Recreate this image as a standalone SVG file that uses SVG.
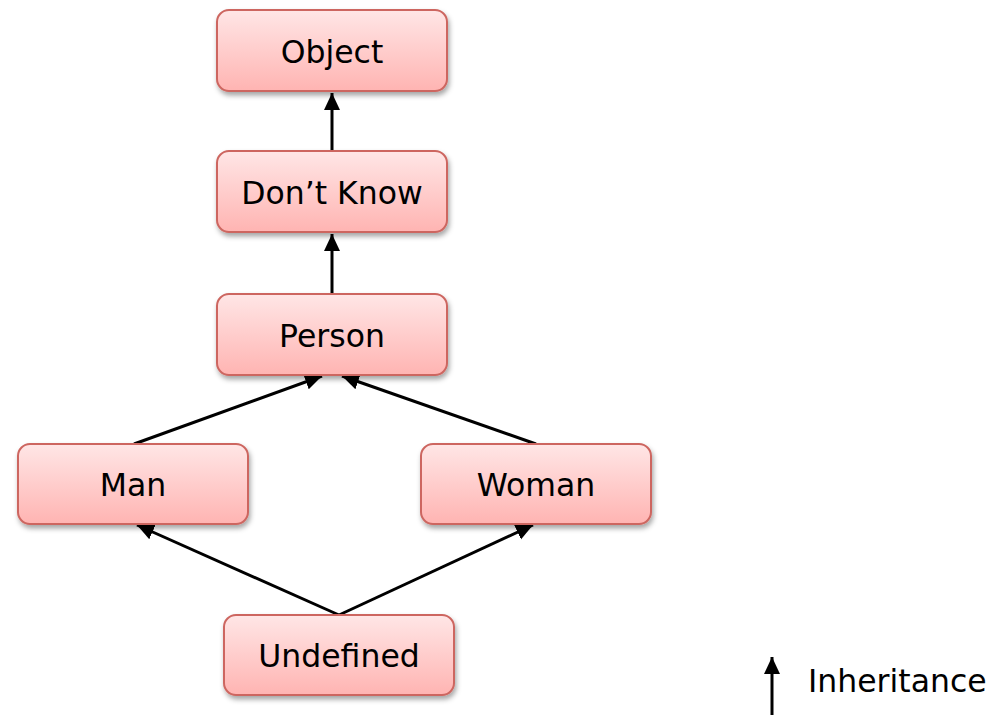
<svg xmlns="http://www.w3.org/2000/svg" width="994" height="715" viewBox="0 0 994 715">
<style>
.box{fill:url(#g);stroke:#cd6660;stroke-width:2;filter:url(#sh)}
.lbl{font-family:"DejaVu Sans","Verdana",sans-serif;font-size:31.5px;fill:#000;text-anchor:middle}
.leg{font-family:"DejaVu Sans","Verdana",sans-serif;font-size:31.5px;fill:#000}
.edge{stroke:#000;stroke-width:3;fill:none;marker-end:url(#ah)}
</style>
<defs>
<linearGradient id="g" x1="0" y1="0" x2="0" y2="1">
<stop offset="0" stop-color="#ffe6e6"/>
<stop offset="1" stop-color="#ffb4b2"/>
</linearGradient>
<filter id="sh" x="-10%" y="-10%" width="125%" height="135%">
<feDropShadow dx="1.5" dy="3.5" stdDeviation="2.5" flood-color="#000" flood-opacity="0.35"/>
</filter>
<marker id="ah" markerUnits="userSpaceOnUse" markerWidth="18" markerHeight="18" viewBox="0 0 18 16" refX="17" refY="8" orient="auto">
<path d="M0,0 L17,8 L0,16 Z" fill="#000"/>
</marker>
</defs>
<g id="connectors">
<line class="edge" x1="332" y1="151" x2="332" y2="93"/>
<line class="edge" x1="332" y1="294" x2="332" y2="234"/>
<line class="edge" x1="134" y1="444" x2="322" y2="376"/>
<line class="edge" x1="536" y1="444" x2="342" y2="376"/>
<line class="edge" x1="339" y1="615" x2="137" y2="525"/>
<line class="edge" x1="339" y1="615" x2="533" y2="525"/>
</g>
<g id="object"><rect class="box" x="217" y="10" width="230" height="81" rx="12"/><text class="lbl" x="332" y="63">Object</text></g>
<g id="dontknow"><rect class="box" x="217" y="151" width="230" height="81" rx="12"/><text class="lbl" x="332" y="204">Don’t Know</text></g>
<g id="person"><rect class="box" x="217" y="294" width="230" height="81" rx="12"/><text class="lbl" x="332" y="347">Person</text></g>
<g id="man"><rect class="box" x="18" y="444" width="230" height="80" rx="12"/><text class="lbl" x="133" y="496">Man</text></g>
<g id="woman"><rect class="box" x="421" y="444" width="230" height="80" rx="12"/><text class="lbl" x="536" y="496">Woman</text></g>
<g id="undefined"><rect class="box" x="224" y="615" width="230" height="80" rx="12"/><text class="lbl" x="339" y="667">Undefined</text></g>
<g id="legend">
<line class="edge" x1="772" y1="715" x2="772" y2="657"/>
<text class="leg" x="808" y="692">Inheritance</text>
</g>
</svg>
